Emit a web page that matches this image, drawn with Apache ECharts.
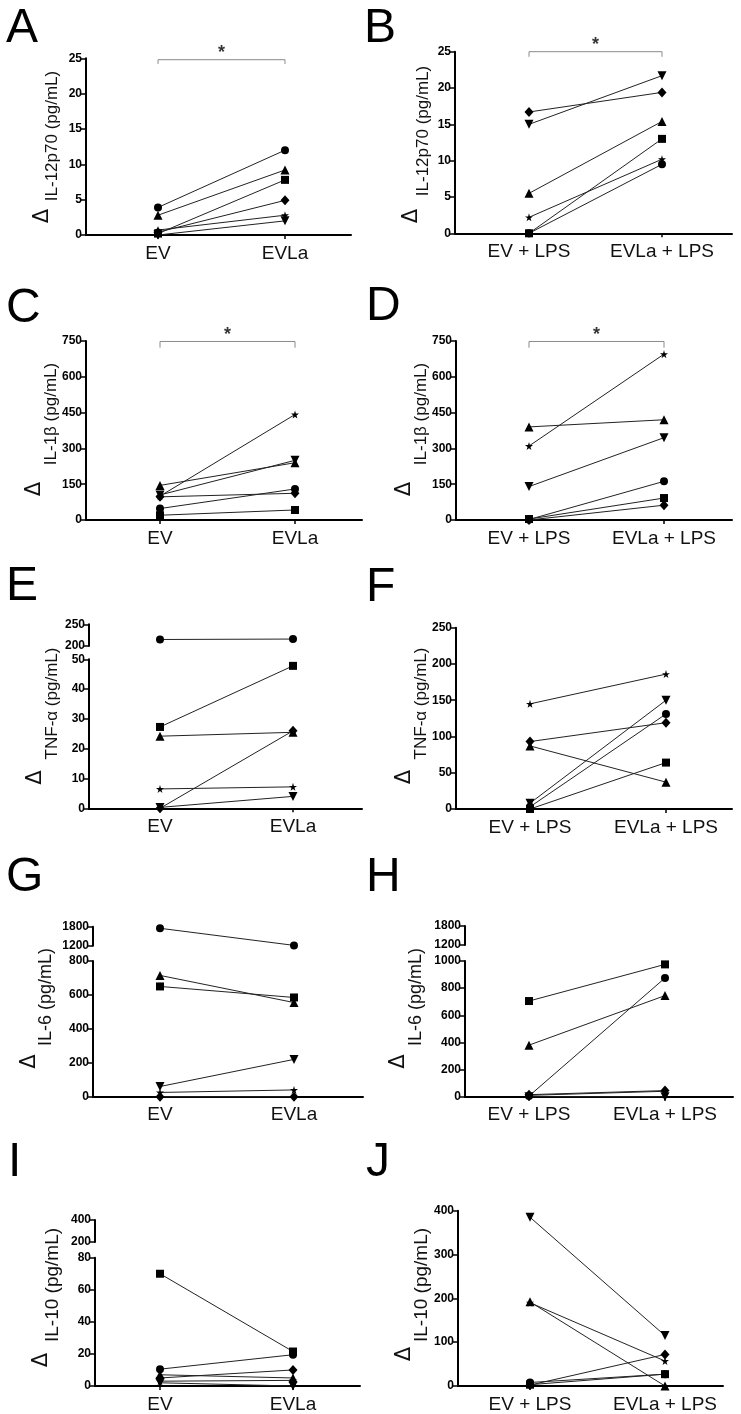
<!DOCTYPE html>
<html><head><meta charset="utf-8">
<script src="https://cdn.jsdelivr.net/npm/echarts@6/dist/echarts.min.js"></script>
<style>html,body{margin:0;padding:0;background:#fff}#main{width:741px;height:1414px}</style>
</head><body><div id="main"></div>
<script>
// ---------- categories ----------
const catsPlain = ['EV', 'EVLa'];
const catsLPS = ['EV + LPS', 'EVLa + LPS'];
// donor order: circle, triangle, square, diamond, down-triangle, star
const donorMarkers = ['circle', 'triangle', 'square', 'diamond', 'downTriangle', 'star'];

// ---------- values (before = EV / EV+LPS, after = EVLa / EVLa+LPS) ----------
const il12_ev      = [3.9, 2.8, 0.2, 0.4, 0.0, 0.7];
const il12_evla    = [12.0, 9.2, 7.8, 4.9, 2.0, 2.8];
const il12_evLps   = [0.0, 5.5, 0.0, 16.7, 15.0, 2.2];
const il12_evlaLps = [9.5, 15.4, 13.0, 19.4, 21.7, 10.2];

const il1b_ev      = [48, 145, 20, 97, 105, 100];
const il1b_evla    = [130, 240, 42, 112, 250, 442];
const il1b_evLps   = [2, 390, 4, 0, 140, 310];
const il1b_evlaLps = [162, 420, 92, 62, 345, 695];

const tnf_ev       = [215, 24.2, 27.3, 0.0, 0.3, 6.5];
const tnf_evla     = [216, 25.5, 47.8, 26.0, 4.0, 7.2];
const tnf_evLps    = [3, 87, 0, 93, 8, 145];
const tnf_evlaLps  = [131, 37, 64, 119, 150, 186];

const il6_ev       = [1750, 715, 650, 0, 60, 25];
const il6_evla     = [1210, 555, 585, 0, 220, 40];
const il6_evLps    = [5, 380, 705, 15, 0, 10];
const il6_evlaLps  = [875, 745, 975, 45, 0, 40];

const il10_ev      = [10.5, 7.0, 70.0, 5.0, 2.0, 3.0];
const il10_evla    = [19.5, 5.0, 21.5, 10.0, 0.0, 3.5];
const il10_evLps   = [8, 192, 3, 2, 385, 190];
const il10_evlaLps = [27, 0, 27, 72, 115, 57];

// ---------- tick labels ----------
const il12Ticks     = [0, 5, 10, 15, 20, 25];
const il1bTicks     = [0, 150, 300, 450, 600, 750];
const tnfLowTicks   = [0, 10, 20, 30, 40, 50];
const tnfHighTicks  = [200, 250];
const tnfTicks      = [0, 50, 100, 150, 200, 250];
const il6LowTicksG  = [0, 200, 400, 600, 800];
const il6LowTicksH  = [0, 200, 400, 600, 800, 1000];
const il6HighTicks  = [1200, 1800];
const il10LowTicks  = [0, 20, 40, 60, 80];
const il10HighTicks = [200, 400];
const il10Ticks     = [0, 100, 200, 300, 400];

// ---------- panel layout (pixels) ----------
const panels = [
  {id:'A', cats:catsPlain, before:il12_ev, after:il12_evla, ticks:il12Ticks, title:'IL-12p70 (pg/mL)',
   L:86, R:351, T:58.3, B:235, cat:[158,285], sig:[24.2,24.8], letter:[6,7], tFs:17, tPos:[52,136], dPos:[43,216]},
  {id:'B', cats:catsLPS, before:il12_evLps, after:il12_evlaLps, ticks:il12Ticks, title:'IL-12p70 (pg/mL)',
   L:455, R:732, T:51.7, B:233.3, cat:[529,662], sig:[24.3,25], letter:[364,7], tFs:17, tPos:[423,131], dPos:[411.5,216]},
  {id:'C', cats:catsPlain, before:il1b_ev, after:il1b_evla, ticks:il1bTicks, title:'IL-1\u03b2 (pg/mL)',
   L:86, R:362, T:341, B:520, cat:[160,295], sig:[722,748], letter:[6,287], tFs:17, tPos:[51,414], dPos:[35,489]},
  {id:'D', cats:catsLPS, before:il1b_evLps, after:il1b_evlaLps, ticks:il1bTicks, title:'IL-1\u03b2 (pg/mL)',
   L:456, R:732, T:341, B:520, cat:[529,664], sig:[722,748], letter:[366,285], tFs:17, tPos:[421.5,414], dPos:[405,489]},
  {id:'E', cats:catsPlain, before:tnf_ev, after:tnf_evla, ticks:tnfLowTicks, high:tnfHighTicks, brk:[624.3,646], title:'TNF-\u03b1 (pg/mL)',
   L:89, R:362, T:659.3, B:808.3, cat:[160,293], letter:[6,565], tFs:17, tPos:[52,703.5], dPos:[36,777.5]},
  {id:'F', cats:catsLPS, before:tnf_evLps, after:tnf_evlaLps, ticks:tnfTicks, title:'TNF-\u03b1 (pg/mL)',
   L:456, R:732, T:627.7, B:809, cat:[530,666], letter:[366,566], tFs:17, tPos:[421.5,703.5], dPos:[405,777]},
  {id:'G', cats:catsPlain, before:il6_ev, after:il6_evla, ticks:il6LowTicksG, high:il6HighTicks, brk:[926.7,945.7], title:'IL-6 (pg/mL)',
   L:93, R:363, T:961, B:1096.7, cat:[160,294], letter:[6,856], tFs:18, tPos:[46,997], dPos:[29.5,1061.5]},
  {id:'H', cats:catsLPS, before:il6_evLps, after:il6_evlaLps, ticks:il6LowTicksH, high:il6HighTicks, brk:[926,945], title:'IL-6 (pg/mL)',
   L:465, R:733, T:961, B:1096.7, cat:[529,665], letter:[366,856], tFs:18, tPos:[416,997], dPos:[398.5,1061.5]},
  {id:'I', cats:catsPlain, before:il10_ev, after:il10_evla, ticks:il10LowTicks, high:il10HighTicks, brk:[1220,1242], title:'IL-10 (pg/mL)',
   L:95, R:360, T:1257.7, B:1386, cat:[160,293], letter:[8,1141], tFs:19, tPos:[53,1285], dPos:[42,1360]},
  {id:'J', cats:catsLPS, before:il10_evLps, after:il10_evlaLps, ticks:il10Ticks, title:'IL-10 (pg/mL)',
   L:458, R:723, T:1210.7, B:1386, cat:[530,665], letter:[366,1141], tFs:19, tPos:[421.5,1285], dPos:[405,1354]}
];

const STAR = 'path://M50,0 L61,35 L98,35 L68,57 L79,91 L50,70 L21,91 L32,57 L2,35 L39,35 Z';
const markerStyle = {
  circle:       {symbol:'circle', size:8, rotate:0},
  triangle:     {symbol:'triangle', size:9, rotate:0},
  square:       {symbol:'rect', size:8, rotate:0},
  diamond:      {symbol:'diamond', size:[9,10], rotate:0},
  downTriangle: {symbol:'triangle', size:9, rotate:180},
  star:         {symbol:STAR, size:8, rotate:0}
};

const FONT = '"Liberation Sans", Arial, sans-serif';
const yAxisStyle = {
  axisLine:{show:true, onZero:false, lineStyle:{color:'#000', width:2}},
  axisTick:{show:true, length:5, lineStyle:{color:'#000', width:1.5}},
  axisLabel:{fontSize:12, fontWeight:'bold', color:'#000', margin:4, fontFamily:FONT,
             formatter:(v) => String(v)},
  splitLine:{show:false}
};

const grids = [], xAxes = [], yAxes = [], series = [], graphics = [];

function addGrid(p, top, bottom, showX, ticks) {
  const idx = grids.length;
  grids.push({left:p.L, top:top, width:p.R - p.L, height:bottom - top, containLabel:false});
  const span = p.cat[1] - p.cat[0];
  const xmin = 1 - (p.cat[0] - p.L) / span;
  const xmax = 2 + (p.R - p.cat[1]) / span;
  xAxes.push({
    gridIndex:idx, type:'value', min:xmin, max:xmax, show:showX,
    axisLine:{show:true, onZero:false, lineStyle:{color:'#000', width:2}},
    axisTick:{show:true, customValues:[1,2], length:4, lineStyle:{color:'#000', width:1.5}},
    axisLabel:{show:true, customValues:[1,2], formatter:(v) => p.cats[Math.round(v) - 1],
               fontSize:19, color:'#111', fontFamily:FONT, margin:9},
    splitLine:{show:false}
  });
  yAxes.push(Object.assign({gridIndex:idx, type:'value', min:ticks[0], max:ticks[ticks.length-1],
                            interval:ticks[1]-ticks[0]}, yAxisStyle));
  return idx;
}

panels.forEach((p) => {
  const mainIdx = addGrid(p, p.T, p.B, true, p.ticks);
  let topIdx = -1;
  if (p.high) topIdx = addGrid(p, p.brk[0], p.brk[1], false, p.high);

  for (let i = 0; i < donorMarkers.length; i++) {
    const m = markerStyle[donorMarkers[i]];
    const inTop = p.high && p.before[i] >= p.high[0] && p.after[i] >= p.high[0];
    const ax = inTop ? topIdx : mainIdx;
    series.push({
      type:'line', name:p.id + '-' + donorMarkers[i], xAxisIndex:ax, yAxisIndex:ax,
      data:[[1, p.before[i]], [2, p.after[i]]],
      symbol:m.symbol, symbolSize:m.size, symbolRotate:m.rotate, showSymbol:true,
      lineStyle:{color:'#222', width:1}, itemStyle:{color:'#000'},
      clip:false, animation:false, silent:true
    });
  }

  if (p.sig) {
    series.push({
      type:'line', xAxisIndex:mainIdx, yAxisIndex:mainIdx, symbol:'none',
      data:[[1, p.sig[0]], [1, p.sig[1]], [2, p.sig[1]], [2, p.sig[0]]],
      lineStyle:{color:'#8a8a8a', width:1}, clip:false, animation:false, silent:true
    });
    series.push({
      type:'scatter', xAxisIndex:mainIdx, yAxisIndex:mainIdx, symbolSize:1,
      itemStyle:{color:'rgba(0,0,0,0)'},
      data:[[1.5, p.sig[1]]],
      label:{show:true, formatter:'*', position:'top', distance:-3, fontSize:18, fontWeight:'bold', color:'#000', fontFamily:FONT},
      clip:false, animation:false, silent:true
    });
  }

  graphics.push({type:'text', x:p.letter[0], y:p.letter[1] - 2, silent:true,
    style:{text:p.id, font:'48px ' + FONT, fill:'#000', align:'left', verticalAlign:'top'}});
  graphics.push({type:'text', x:p.tPos[0], y:p.tPos[1], rotation:Math.PI/2, silent:true,
    style:{text:p.title, font:p.tFs + 'px ' + FONT, fill:'#111', align:'center', verticalAlign:'middle'}});
  graphics.push({type:'text', x:p.dPos[0], y:p.dPos[1], rotation:Math.PI/2, silent:true,
    style:{text:'\u0394', font:'21px "DejaVu Sans", sans-serif', fill:'#111', align:'center', verticalAlign:'middle'}});
});

const chart = echarts.init(document.getElementById('main'), null, {renderer:'canvas', width:741, height:1414});
chart.setOption({
  backgroundColor:'#fff',
  animation:false,
  textStyle:{fontFamily:FONT},
  grid:grids, xAxis:xAxes, yAxis:yAxes, series:series, graphic:graphics
});
</script>
</body></html>
